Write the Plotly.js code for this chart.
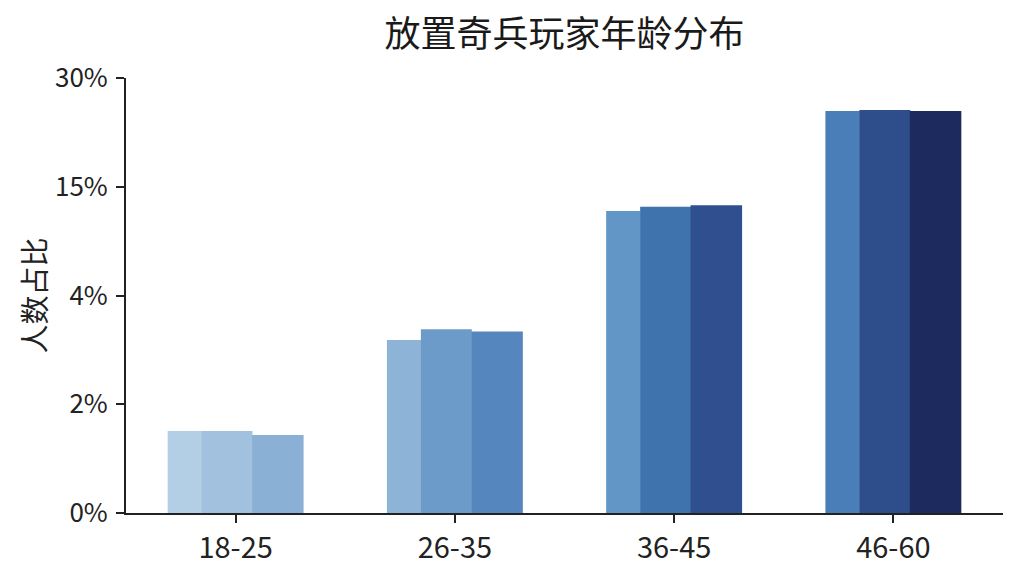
<!DOCTYPE html>
<html>
<head>
<meta charset="utf-8">
<script src="https://cdn.plot.ly/plotly-3.0.1.min.js"></script>
<style>html,body{margin:0;padding:0;background:#fff;}#chart{width:1024px;height:576px;}</style>
</head>
<body>
<div id="chart"></div>
<script>
// Age groups
const categories = ['18-25', '26-35', '36-45', '46-60'];
// The y axis is ordinal: tick positions 0..4 labelled as below
const tickPositions = [0, 1, 2, 3, 4];
const tickLabels = ['0%', '2%', '4%', '15%', '30%'];
// Bar heights in y-axis position units (each bar drawn as three shaded slices)
const sliceLeft   = [0.754, 1.591, 2.777, 3.697];
const sliceMiddle = [0.754, 1.690, 2.815, 3.706];
const sliceRight  = [0.717, 1.670, 2.830, 3.697];
// Slice colours per category
const colorsLeft   = ['#b3cfe5', '#8db4d7', '#6196c6', '#4a7eb8'];
const colorsMiddle = ['#a1c1df', '#6c9bca', '#3f73ad', '#2e4d8b'];
const colorsRight  = ['#8ab0d6', '#5587be', '#2f4f8f', '#1d2a5e'];

const traces = [
  {y: sliceLeft, colors: colorsLeft, offset: -0.31, width: 0.157},
  {y: sliceMiddle, colors: colorsMiddle, offset: -0.155, width: 0.232},
  {y: sliceRight, colors: colorsRight, offset: 0.075, width: 0.235}
].map(s => ({
  type: 'bar',
  x: categories,
  y: s.y,
  offset: s.offset,
  width: s.width,
  marker: {color: s.colors, line: {width: 0}},
  hoverinfo: 'x',
  showlegend: false
}));

const layout = {
  width: 1024,
  height: 576,
  margin: {l: 126, r: 21, t: 78, b: 63},
  paper_bgcolor: '#ffffff',
  plot_bgcolor: '#ffffff',
  barmode: 'overlay',
  font: {family: '"Noto Sans CJK SC", "Noto Sans", sans-serif', color: '#222'},
  title: {
    text: '放置奇兵玩家年龄分布',
    font: {size: 36, color: '#1a1a1a'},
    x: 0.5, xref: 'paper', xanchor: 'center',
    y: 0.94, yref: 'container', yanchor: 'middle'
  },
  xaxis: {
    type: 'category',
    range: [-0.5, 3.5],
    showline: true, linecolor: '#222', linewidth: 2,
    ticks: 'outside', ticklen: 8, tickwidth: 2, tickcolor: '#222',
    tickfont: {size: 29, color: '#222'},
    showgrid: false, zeroline: false
  },
  yaxis: {
    range: [0, 4],
    tickvals: tickPositions,
    ticktext: tickLabels,
    showline: true, linecolor: '#222', linewidth: 2,
    ticks: 'outside', ticklen: 8, tickwidth: 2, tickcolor: '#222',
    tickfont: {size: 26, color: '#222'},
    ticklabelstandoff: 3,
    showgrid: false, zeroline: false,
    title: {text: '人数占比', font: {size: 29, color: '#222'}, standoff: 0}
  }
};

Plotly.newPlot('chart', traces, layout, {displayModeBar: false, staticPlot: true});
</script>
</body>
</html>
